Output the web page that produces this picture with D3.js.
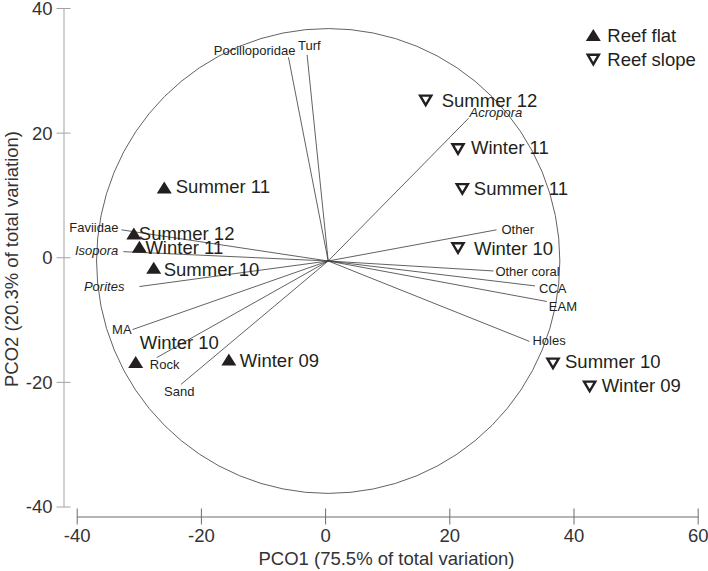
<!DOCTYPE html>
<html>
<head>
<meta charset="utf-8">
<script src="https://cdn.jsdelivr.net/npm/d3@7"></script>
<style>
  body { margin: 0; background: #fff; }
  svg { display: block; font-family: "Liberation Sans", Arial, sans-serif; }
</style>
</head>
<body>
<svg id="chart" width="708" height="571"></svg>
<script>
// tick values
const xTicks = [-40, -20, 0, 20, 40, 60];
const yTicks = [-40, -20, 0, 20, 40];

// sample scores (PCO1, PCO2)
const flatNames = ["Summer 11", "Summer 12", "Winter 11", "Summer 10", "Winter 10", "Winter 09"];
const flatX = [-25.9, -30.8, -29.9, -27.6, -30.5, -15.5];
const flatY = [11.2, 3.8, 1.7, -1.7, -16.8, -16.4];

const slopeNames = ["Summer 12", "Winter 11", "Summer 11", "Winter 10", "Summer 10", "Winter 09"];
const slopeX = [16.2, 21.4, 22.1, 21.4, 36.7, 42.6];
const slopeY = [25.2, 17.4, 11.0, 1.5, -17.0, -20.7];

// vector overlay (end points in axis units) and the correlation circle
const vecNames = ["Pocilloporidae", "Turf", "Acropora", "Other", "Other coral", "CCA", "EAM",
  "Holes", "Faviidae", "Isopora", "Porites", "MA", "Rock", "Sand"];
const vecX = [-5.9, -2.9, 23.1, 27.6, 27.1, 33.8, 35.7, 32.9, -32.8, -32.5, -29.9, -31.0, -27.1, -23.2];
const vecY = [32.1, 32.5, 22.3, 4.4, -2.2, -4.6, -7.1, -13.5, 4.4, 0.9, -4.7, -11.6, -16.1, -20.4];
const italicNames = ["Acropora", "Isopora", "Porites"];
const circleCenter = [0.5, -0.6];
const circleRadius = 37.3;

const legendLabels = ["Reef flat", "Reef slope"];

// label placement (layout only)
const vecLabelPos = {
  "Pocilloporidae": ["end", 7, -2], "Turf": ["start", -9, -5], "Acropora": ["start", 1, -1],
  "Other": ["start", 5, 4], "Other coral": ["start", 2, 5], "CCA": ["start", 4, 7],
  "EAM": ["start", 2, 10], "Holes": ["start", 3, 4], "Faviidae": ["end", -3, 2],
  "Isopora": ["end", -5, 3], "Porites": ["end", -15, 4], "MA": ["end", -1, 4],
  "Rock": ["start", -7, 11], "Sand": ["start", -17, 12]
};
const flatLabelPos = [[11.5, 6], [5, 6], [6, 7], [10, 8], [4, -13], [11, 7.5]];
const slopeLabelPos = [[16, 7], [13, 5], [11.5, 6], [16, 7], [12, 5], [12, 6]];

const ink = "#231f20";
const svg = d3.select("#chart");

const x = d3.scaleLinear().domain([-40, 60]).range([76.7, 697.7]);
const y = d3.scaleLinear().domain([-40, 40]).range([506.5, 8]);
const xAxisY = 516.5, yAxisX = 63.5;

const upTri = "M-7.5,6L7.5,6L0,-6Z";
const downTri = "M-5.6,-4.6L5.6,-4.6L0,5Z";

// plain hyphen for negatives, as in the original
const fmt = d => String(d);

// x axis
const gx = svg.append("g").attr("transform", `translate(0,${xAxisY})`)
  .call(d3.axisBottom(x).tickValues(xTicks).tickSizeOuter(0).tickFormat(fmt));
gx.select(".domain").attr("stroke", "#6d6d6d");
gx.selectAll(".tick line").attr("y1", -8).attr("y2", 8).attr("stroke", "#6d6d6d");
gx.selectAll(".tick text").attr("y", 25).attr("dy", 0)
  .attr("font-size", 18.5).attr("fill", "#333").attr("font-family", null);

// y axis
const gy = svg.append("g").attr("transform", `translate(${yAxisX},0)`)
  .call(d3.axisLeft(y).tickValues(yTicks).tickSizeOuter(0).tickFormat(fmt));
gy.select(".domain").attr("stroke", "#a3a3a3");
gy.selectAll(".tick line").attr("x1", -7).attr("x2", 7).attr("stroke", "#a3a3a3");
gy.selectAll(".tick text").attr("x", -11).attr("dy", "0.35em")
  .attr("font-size", 18.5).attr("fill", "#333").attr("font-family", null);

// axis titles
svg.append("text").attr("x", 386.5).attr("y", 565).attr("text-anchor", "middle")
  .attr("font-size", 18.5).attr("fill", "#333").text("PCO1 (75.5% of total variation)");
svg.append("text").attr("transform", "translate(18,259) rotate(-90)").attr("text-anchor", "middle")
  .attr("font-size", 18.5).attr("fill", "#333").text("PCO2 (20.3% of total variation)");

// correlation circle
const cx = x(circleCenter[0]), cy = y(circleCenter[1]);
svg.append("ellipse")
  .attr("cx", cx).attr("cy", cy)
  .attr("rx", x(circleRadius) - x(0)).attr("ry", y(0) - y(circleRadius))
  .attr("fill", "none").attr("stroke", "#3a3a3a").attr("stroke-width", 0.8);

// vectors
const vectors = vecNames.map((n, i) => ({ name: n, x: vecX[i], y: vecY[i] }));
const vg = svg.append("g");
vg.selectAll("line").data(vectors).enter().append("line")
  .attr("x1", cx).attr("y1", cy)
  .attr("x2", d => x(d.x)).attr("y2", d => y(d.y))
  .attr("stroke", "#3a3a3a").attr("stroke-width", 0.8);
vg.selectAll("text").data(vectors).enter().append("text")
  .attr("x", d => x(d.x) + vecLabelPos[d.name][1])
  .attr("y", d => y(d.y) + vecLabelPos[d.name][2])
  .attr("text-anchor", d => vecLabelPos[d.name][0])
  .attr("font-size", 13).attr("fill", ink)
  .attr("font-style", d => italicNames.includes(d.name) ? "italic" : null)
  .text(d => d.name);

// reef flat points
const flat = flatNames.map((n, i) => ({ name: n, x: flatX[i], y: flatY[i], pos: flatLabelPos[i] }));
const fg = svg.append("g");
fg.selectAll("path").data(flat).enter().append("path")
  .attr("d", upTri).attr("transform", d => `translate(${x(d.x)},${y(d.y)})`)
  .attr("fill", ink);
fg.selectAll("text").data(flat).enter().append("text")
  .attr("x", d => x(d.x) + d.pos[0]).attr("y", d => y(d.y) + d.pos[1])
  .attr("font-size", 18.5).attr("fill", ink).text(d => d.name);

// reef slope points
const slope = slopeNames.map((n, i) => ({ name: n, x: slopeX[i], y: slopeY[i], pos: slopeLabelPos[i] }));
const sg = svg.append("g");
sg.selectAll("path").data(slope).enter().append("path")
  .attr("d", downTri).attr("transform", d => `translate(${x(d.x)},${y(d.y)})`)
  .attr("fill", "#fff").attr("stroke", ink).attr("stroke-width", 2.4);
sg.selectAll("text").data(slope).enter().append("text")
  .attr("x", d => x(d.x) + d.pos[0]).attr("y", d => y(d.y) + d.pos[1])
  .attr("font-size", 18.5).attr("fill", ink).text(d => d.name);

// legend
const lg = svg.append("g").attr("transform", "translate(593.3,35)");
lg.append("path").attr("d", upTri).attr("fill", ink);
lg.append("path").attr("d", downTri).attr("transform", "translate(0,24.3)")
  .attr("fill", "#fff").attr("stroke", ink).attr("stroke-width", 2.4);
lg.selectAll("text").data(legendLabels).enter().append("text")
  .attr("x", 14).attr("y", (d, i) => 6.5 + i * 24)
  .attr("font-size", 18.5).attr("fill", ink).text(d => d);
</script>
</body>
</html>
